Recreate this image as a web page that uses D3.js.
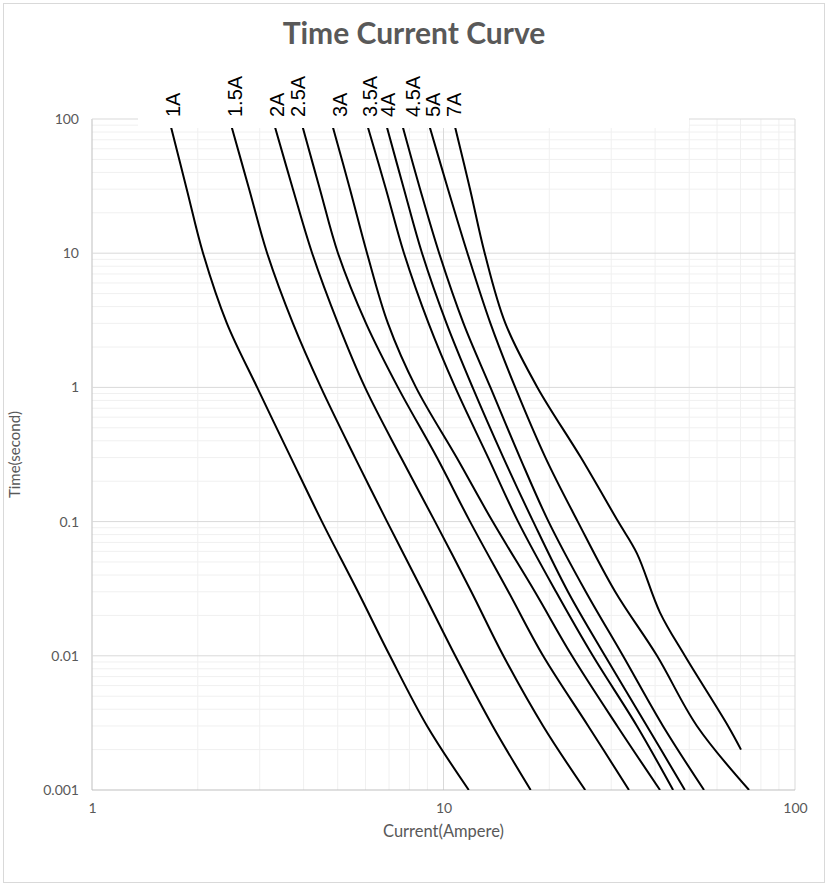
<!DOCTYPE html>
<html>
<head>
<meta charset="utf-8">
<script src="https://cdn.jsdelivr.net/npm/d3@7"></script>
<style>
  body { margin: 0; background: #fff; }
  svg text { font-family: Lato, "Open Sans", sans-serif; }
</style>
</head>
<body>
<script>
// time points (seconds) the currents were read at, top of chart downwards
var times   = [86, 30, 10, 3, 1, 0.3, 0.1, 0.03, 0.01, 0.003, 0.001]
var times7A = [86, 30, 10, 3, 1, 0.3, 0.1, 0.058, 0.021, 0.01, 0.003, 0.002]

// current (A) at each time, one array per fuse rating
var amps1A  = [1.68, 1.86, 2.07, 2.42, 2.95, 3.68, 4.51, 5.71, 7.04, 8.98, 11.8]
var amps15A = [2.50, 2.80, 3.15, 3.73, 4.48, 5.60, 6.91, 8.74, 10.8, 13.8, 17.7]
var amps2A  = [3.32, 3.73, 4.23, 5.01, 5.98, 7.57, 9.46, 12.0, 14.8, 19.2, 25.3]
var amps25A = [3.98, 4.45, 5.01, 6.02, 7.42, 9.58, 11.9, 15.3, 19.2, 25.8, 33.7]
var amps3A  = [4.85, 5.42, 6.06, 6.95, 8.35, 10.9, 13.8, 18.2, 23.2, 31.2, 41.3]
var amps35A = [6.10, 6.86, 7.72, 9.07, 10.8, 13.4, 16.3, 20.9, 26.6, 35.5, 45.0]
var amps4A  = [6.91, 7.72, 8.69, 10.2, 12.1, 14.8, 18.0, 22.6, 28.8, 37.9, 48.6]
var amps45A = [7.67, 8.58, 9.72, 11.4, 13.6, 16.5, 19.9, 25.4, 32.4, 42.1, 55.1]
var amps5A  = [9.15, 10.3, 11.7, 13.6, 16.0, 19.5, 24.1, 30.8, 40.5, 52.6, 74.0]
var amps7A  = [10.8, 11.9, 13.1, 15.0, 18.5, 24.6, 31.4, 35.5, 41.3, 48.6, 64.5, 70.2]

var ratings   = ['1A', '1.5A', '2A', '2.5A', '3A', '3.5A', '4A', '4.5A', '5A', '7A']
var labelAmps = [1.78, 2.67, 3.52, 4.04, 5.32, 6.47, 7.28, 8.58, 9.78, 11.2]

var xTicks = [1, 10, 100]
var yTicks = [100, 10, 1, 0.1, 0.01, 0.001]

var curves = [amps1A, amps15A, amps2A, amps25A, amps3A, amps35A, amps4A, amps45A, amps5A, amps7A]
  .map(function(a, i) {
    var t = i === 9 ? times7A : times
    return a.map(function(v, j) { return [v, t[j]] })
  })

var W = 828, H = 886
var plot = { left: 92, right: 795, top: 119, bottom: 790 }

var svg = d3.select('body').append('svg')
  .attr('width', W)
  .attr('height', H)

svg.append('rect')
  .attr('x', 3.5).attr('y', 3.5)
  .attr('width', W - 7).attr('height', H - 7)
  .attr('fill', '#fff')
  .attr('stroke', '#d9d9d9')

var x = d3.scaleLog().domain([1, 100]).range([plot.left, plot.right])
var y = d3.scaleLog().domain([0.001, 100]).range([plot.bottom, plot.top])

// minor grid: 2..9 inside every decade
var minorX = [], minorY = []
;[1, 10].forEach(function(d) { for (var k = 2; k < 10; k++) minorX.push(d * k) })
;[0.001, 0.01, 0.1, 1, 10].forEach(function(d) { for (var k = 2; k < 10; k++) minorY.push(d * k) })

var grid = svg.append('g')
grid.selectAll('line.mx').data(minorX).enter().append('line')
  .attr('x1', x).attr('x2', x)
  .attr('y1', plot.top).attr('y2', plot.bottom)
  .attr('stroke', '#f0f0f0')
grid.selectAll('line.my').data(minorY).enter().append('line')
  .attr('y1', y).attr('y2', y)
  .attr('x1', plot.left).attr('x2', plot.right)
  .attr('stroke', '#f0f0f0')
grid.selectAll('line.gx').data(xTicks).enter().append('line')
  .attr('x1', x).attr('x2', x)
  .attr('y1', plot.top).attr('y2', plot.bottom)
  .attr('stroke', function(d) { return d === 1 ? '#bfbfbf' : '#d9d9d9' })
grid.selectAll('line.gy').data(yTicks).enter().append('line')
  .attr('y1', y).attr('y2', y)
  .attr('x1', plot.left).attr('x2', plot.right)
  .attr('stroke', function(d) { return d === 0.001 ? '#bfbfbf' : '#d9d9d9' })

// axes (labels only)
var yAxis = svg.append('g')
  .attr('transform', 'translate(' + plot.left + ',0)')
  .call(d3.axisLeft(y).tickValues(yTicks).tickSize(0).tickPadding(13)
    .tickFormat(function(d) { return String(d) }))
var xAxis = svg.append('g')
  .attr('transform', 'translate(0,' + plot.bottom + ')')
  .call(d3.axisBottom(x).tickValues(xTicks).tickSize(0).tickPadding(13)
    .tickFormat(function(d) { return String(d) }))
;[yAxis, xAxis].forEach(function(a) {
  a.select('.domain').remove()
  a.selectAll('text')
    .style('font-family', 'Lato, sans-serif')
    .style('font-size', '14px')
    .attr('fill', '#595959')
})

svg.append('clipPath').attr('id', 'plotclip')
  .append('rect')
  .attr('x', plot.left).attr('y', plot.top)
  .attr('width', plot.right - plot.left).attr('height', plot.bottom - plot.top)

var line = d3.line()
  .x(function(d) { return x(d[0]) })
  .y(function(d) { return y(d[1]) })
  .curve(d3.curveCatmullRom.alpha(0.5))

svg.append('g').attr('clip-path', 'url(#plotclip)')
  .selectAll('path').data(curves).enter().append('path')
  .attr('d', line)
  .attr('fill', 'none')
  .attr('stroke', '#000')
  .attr('stroke-width', 2)

// white box behind the rating labels
svg.append('rect')
  .attr('x', 138).attr('y', 50)
  .attr('width', 551).attr('height', 78)
  .attr('fill', '#fff')

svg.append('g').selectAll('text').data(ratings).enter().append('text')
  .attr('transform', function(d, i) {
    return 'translate(' + x(labelAmps[i]) + ',117) rotate(-90)'
  })
  .style('font-family', '"Liberation Sans", Arial, sans-serif')
  .style('font-size', '20px')
  .attr('fill', '#000')
  .text(function(d) { return d })

svg.append('text')
  .attr('x', W / 2).attr('y', 44)
  .attr('text-anchor', 'middle')
  .style('font-size', '30px')
  .style('font-weight', 'bold')
  .attr('fill', '#595959')
  .text('Time Current Curve')

svg.append('text')
  .attr('x', (plot.left + plot.right) / 2).attr('y', 837)
  .attr('text-anchor', 'middle')
  .style('font-size', '16.5px')
  .attr('fill', '#595959')
  .text('Current(Ampere)')

svg.append('text')
  .attr('transform', 'translate(20,' + (plot.top + plot.bottom) / 2 + ') rotate(-90)')
  .attr('text-anchor', 'middle')
  .style('font-size', '15px')
  .attr('fill', '#595959')
  .text('Time(second)')
</script>
</body>
</html>
